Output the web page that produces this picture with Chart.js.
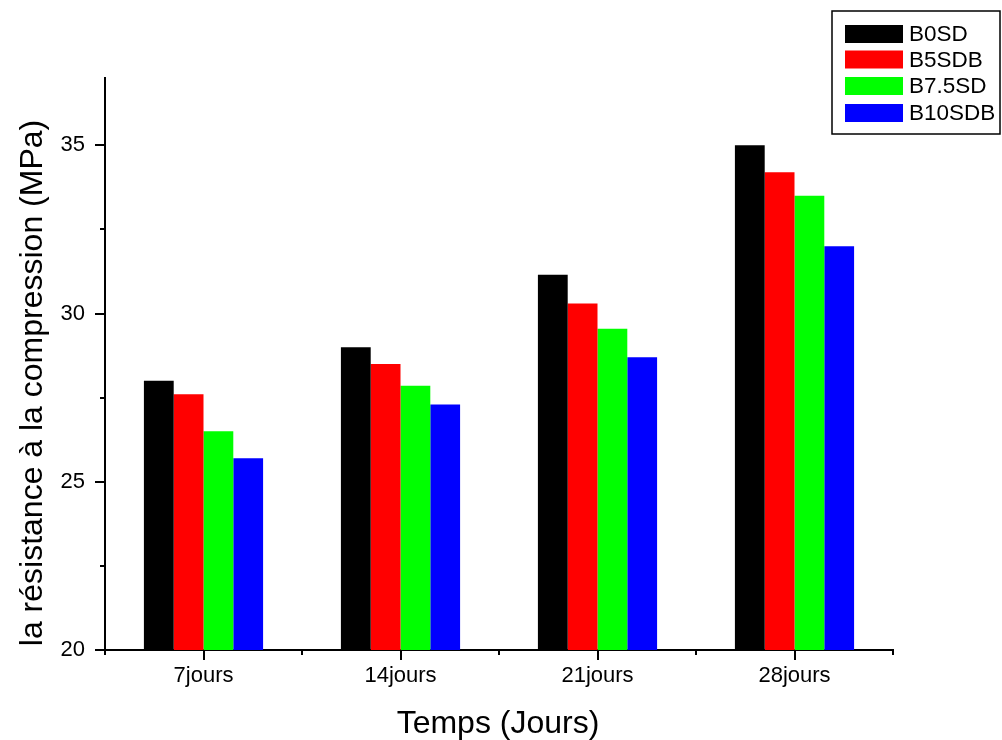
<!DOCTYPE html>
<html>
<head>
<meta charset="utf-8">
<script src="https://cdn.jsdelivr.net/npm/chart.js@4.4.1/dist/chart.umd.min.js"></script>
<style>
  html, body { margin: 0; padding: 0; background: #fff; }
  canvas { display: block; }
</style>
</head>
<body>
<canvas id="c" width="1002" height="740"></canvas>
<script>
const categories = ['7jours', '14jours', '21jours', '28jours'];
const seriesNames = ['B0SD', 'B5SDB', 'B7.5SD', 'B10SDB'];
const seriesColors = ['#000000', '#ff0000', '#00ff00', '#0000ff'];
const B0SD   = [28.0, 29.0, 31.15, 35.0];
const B5SDB  = [27.6, 28.5, 30.3, 34.2];
const B75SD  = [26.5, 27.85, 29.55, 33.5];
const B10SDB = [25.7, 27.3, 28.7, 32.0];
const seriesValues = [B0SD, B5SDB, B75SD, B10SDB];
const yMin = 20, yMax = 37, yStep = 5, yMinorTicks = [22.5, 27.5, 32.5];
const xTitle = 'Temps (Jours)';
const yTitle = 'la résistance à la compression (MPa)';
const FONT = "'Liberation Sans', Arial, sans-serif";

const extras = {
  id: 'extras',
  afterDraw(chart) {
    const ctx = chart.ctx;
    const xs = chart.scales.x, ys = chart.scales.y;
    ctx.save();
    ctx.strokeStyle = '#000';
    ctx.lineWidth = 2;
    // minor y ticks
    yMinorTicks.forEach(v => {
      const py = Math.round(ys.getPixelForValue(v));
      ctx.beginPath(); ctx.moveTo(xs.left - 5, py); ctx.lineTo(xs.left, py); ctx.stroke();
    });
    // minor x ticks at category boundaries
    const n = chart.data.labels.length;
    for (let i = 0; i <= n; i++) {
      const px = Math.round(xs.left + i * (xs.right - xs.left) / n);
      ctx.beginPath(); ctx.moveTo(px, ys.bottom); ctx.lineTo(px, ys.bottom + 5); ctx.stroke();
    }
    // axis titles
    ctx.fillStyle = '#000';
    ctx.font = '32px ' + FONT;
    ctx.textAlign = 'center';
    ctx.textBaseline = 'alphabetic';
    ctx.fillText(xTitle, 498, 733);
    ctx.save();
    ctx.translate(42, 383);
    ctx.rotate(-Math.PI / 2);
    ctx.fillText(yTitle, 0, 0);
    ctx.restore();
    // legend
    ctx.lineWidth = 1.5;
    ctx.strokeRect(832, 11, 168, 123);
    const rows = [34, 59.5, 86, 113];
    ctx.font = '22.5px ' + FONT;
    ctx.textAlign = 'left';
    ctx.textBaseline = 'middle';
    chart.data.datasets.forEach((ds, i) => {
      ctx.fillStyle = ds.backgroundColor;
      ctx.fillRect(845, rows[i] - 9, 58, 18);
      ctx.fillStyle = '#000';
      ctx.fillText(ds.label, 909, rows[i] + 1);
    });
    ctx.restore();
  }
};

new Chart(document.getElementById('c'), {
  type: 'bar',
  data: {
    labels: categories,
    datasets: seriesNames.map((name, i) => ({
      label: name,
      data: seriesValues[i],
      backgroundColor: seriesColors[i],
      borderWidth: 0,
      categoryPercentage: 0.605,
      barPercentage: 1.0
    }))
  },
  options: {
    responsive: false,
    animation: false,
    devicePixelRatio: 1,
    layout: { padding: { left: 0, right: 109, top: 78, bottom: 0 } },
    plugins: { legend: { display: false }, tooltip: { enabled: false } },
    scales: {
      x: {
        type: 'category',
        offset: true,
        afterFit(s) { s.height = 90; },
        grid: { display: true, drawOnChartArea: false, drawTicks: true, offset: false,
                tickLength: 10, color: '#000', lineWidth: 2 },
        border: { display: true, color: '#000', width: 2 },
        ticks: { color: '#000', font: { family: FONT, size: 22 }, padding: 3, maxRotation: 0 }
      },
      y: {
        min: yMin, max: yMax,
        afterFit(s) { s.width = 105; },
        afterBuildTicks(s) { s.ticks = s.ticks.filter(t => t.value % yStep === 0); },
        grid: { display: true, drawOnChartArea: false, drawTicks: true,
                tickLength: 10, color: '#000', lineWidth: 2 },
        border: { display: true, color: '#000', width: 2 },
        ticks: { stepSize: yStep, color: '#000', font: { family: FONT, size: 22 }, padding: 10 }
      }
    }
  },
  plugins: [extras]
});
</script>
</body>
</html>
